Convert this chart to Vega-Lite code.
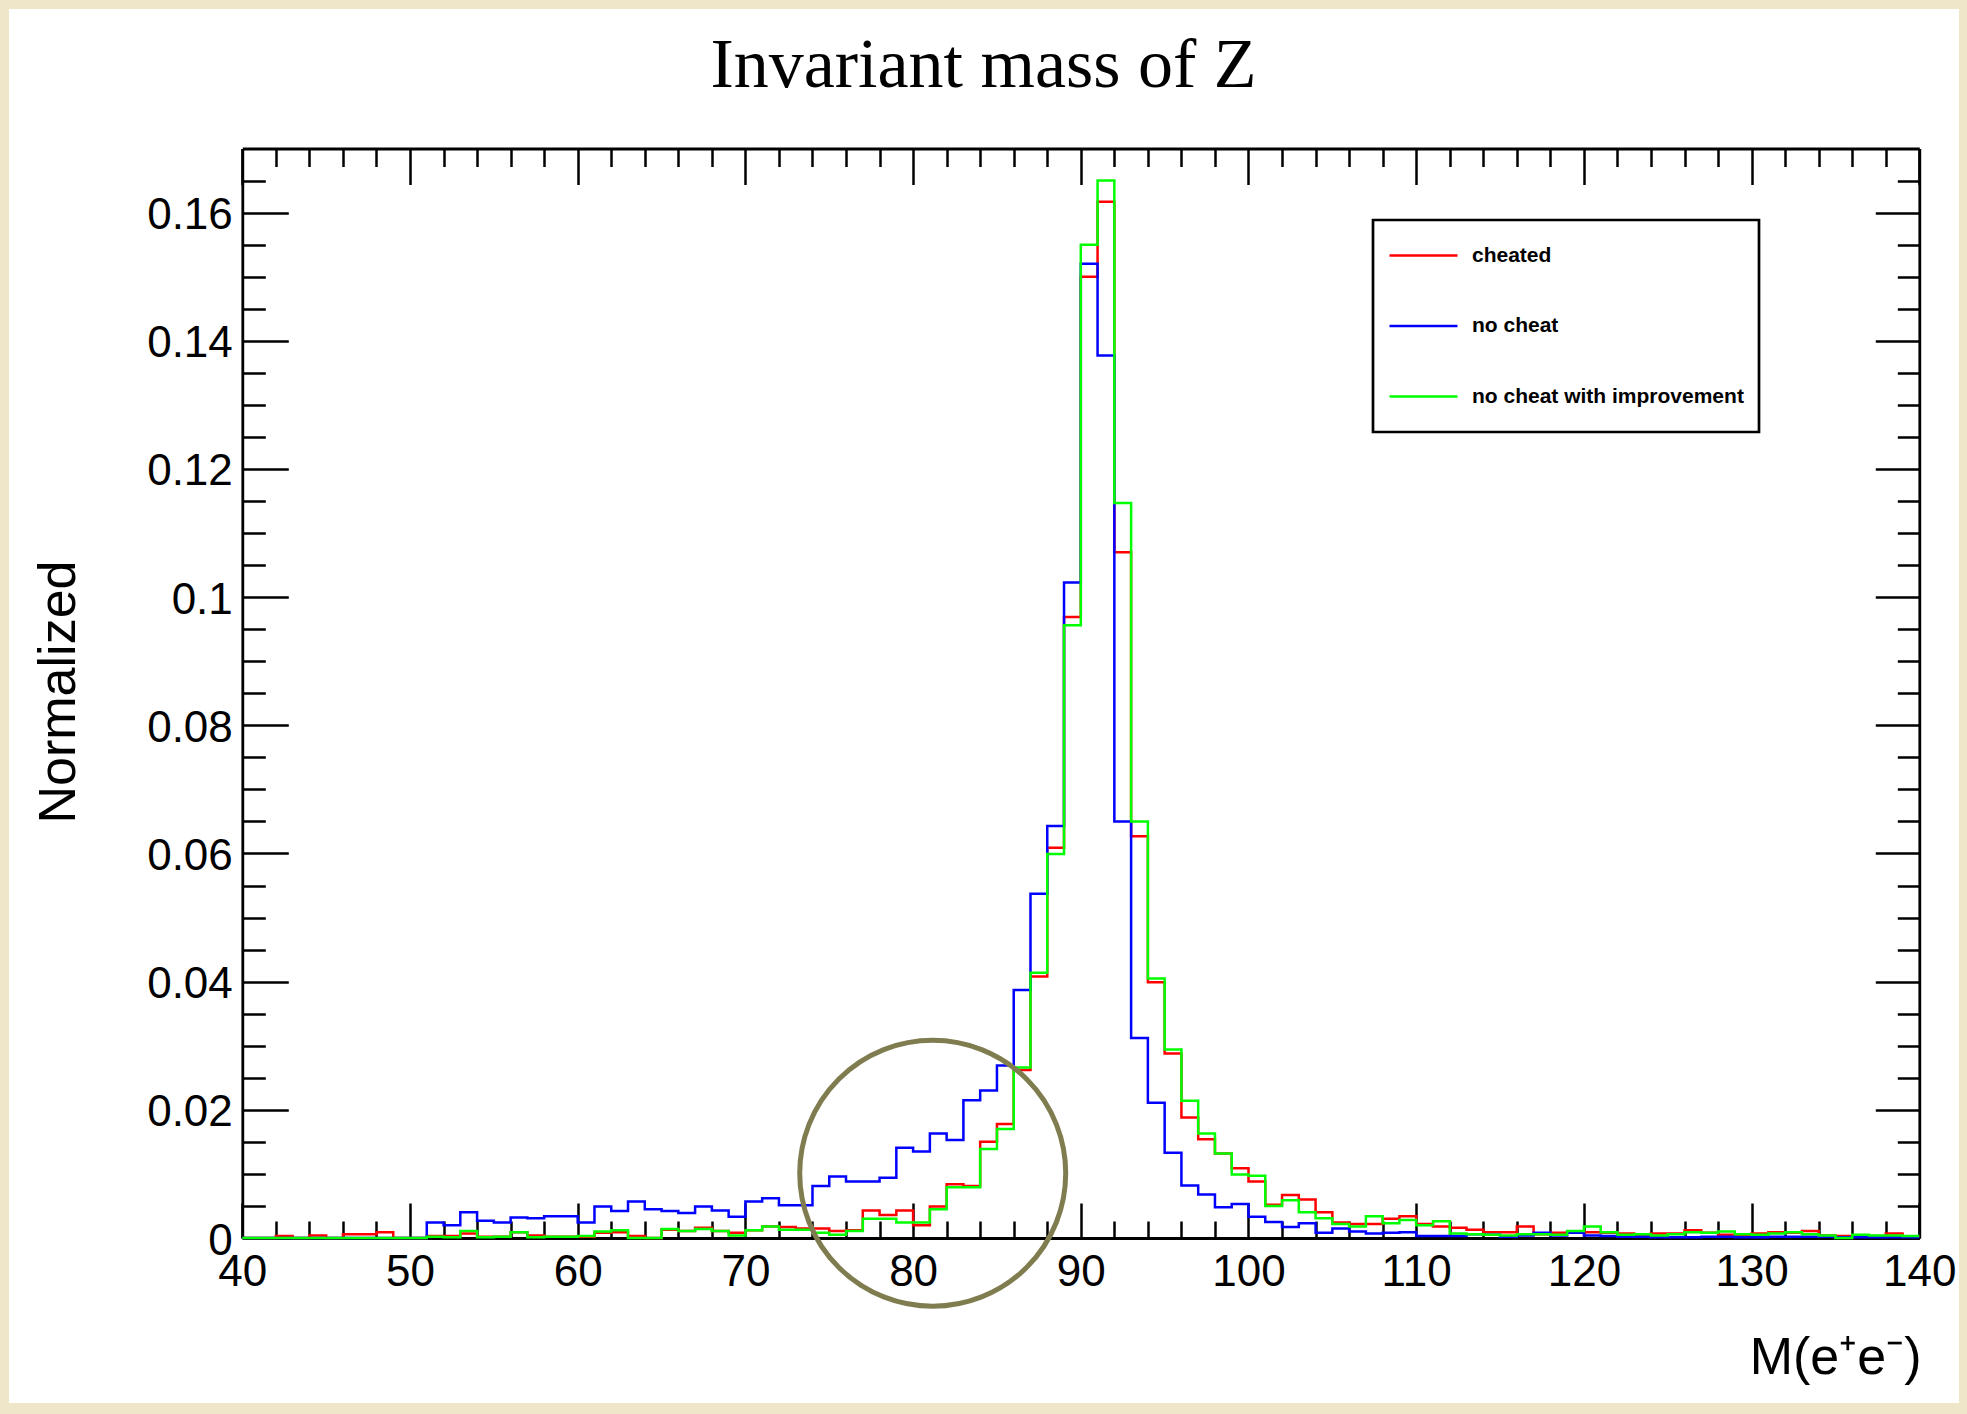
{
  "$schema": "https://vega.github.io/schema/vega-lite/v6.json",
  "width": 1950,
  "height": 1394,
  "autosize": {"type": "none"},
  "padding": {"left": 9, "top": 9, "right": 8, "bottom": 11},
  "background": "#efe6c9",
  "config": {"view": {"fill": "white", "stroke": null}, "axis": {"grid": false}},
  "datasets": {
    "hist": [
      {"m":40,"cheated":0,"no_cheat":0,"improved":0},
      {"m":41,"cheated":0,"no_cheat":0,"improved":0},
      {"m":42,"cheated":0.0003,"no_cheat":0,"improved":0},
      {"m":43,"cheated":0,"no_cheat":0,"improved":0},
      {"m":44,"cheated":0.0004,"no_cheat":0,"improved":0},
      {"m":45,"cheated":0,"no_cheat":0,"improved":0},
      {"m":46,"cheated":0.0006,"no_cheat":0,"improved":0},
      {"m":47,"cheated":0.0006,"no_cheat":0,"improved":0},
      {"m":48,"cheated":0.0009,"no_cheat":0,"improved":0},
      {"m":49,"cheated":0,"no_cheat":0,"improved":0},
      {"m":50,"cheated":0,"no_cheat":0,"improved":0},
      {"m":51,"cheated":0.0003,"no_cheat":0.0024,"improved":0.0002},
      {"m":52,"cheated":0.0003,"no_cheat":0.0020,"improved":0.0001},
      {"m":53,"cheated":0.0007,"no_cheat":0.0040,"improved":0.0011},
      {"m":54,"cheated":0.0002,"no_cheat":0.0027,"improved":0.0001},
      {"m":55,"cheated":0.0002,"no_cheat":0.0024,"improved":0.0002},
      {"m":56,"cheated":0.0009,"no_cheat":0.0032,"improved":0.0009},
      {"m":57,"cheated":0.0004,"no_cheat":0.0031,"improved":0.0001},
      {"m":58,"cheated":0.0002,"no_cheat":0.0034,"improved":0.0002},
      {"m":59,"cheated":0.0002,"no_cheat":0.0034,"improved":0.0002},
      {"m":60,"cheated":0.0002,"no_cheat":0.0024,"improved":0.0003},
      {"m":61,"cheated":0.0008,"no_cheat":0.0049,"improved":0.0010},
      {"m":62,"cheated":0.0009,"no_cheat":0.0042,"improved":0.0012},
      {"m":63,"cheated":0.0003,"no_cheat":0.0057,"improved":0},
      {"m":64,"cheated":0,"no_cheat":0.0045,"improved":0},
      {"m":65,"cheated":0.0013,"no_cheat":0.0042,"improved":0.0014},
      {"m":66,"cheated":0.0011,"no_cheat":0.0039,"improved":0.0011},
      {"m":67,"cheated":0.0016,"no_cheat":0.0049,"improved":0.0014},
      {"m":68,"cheated":0.0011,"no_cheat":0.0043,"improved":0.0011},
      {"m":69,"cheated":0.0008,"no_cheat":0.0033,"improved":0.0004},
      {"m":70,"cheated":0.0012,"no_cheat":0.0057,"improved":0.0012},
      {"m":71,"cheated":0.0018,"no_cheat":0.0062,"improved":0.0018},
      {"m":72,"cheated":0.0017,"no_cheat":0.0051,"improved":0.0013},
      {"m":73,"cheated":0.0015,"no_cheat":0.0051,"improved":0.0013},
      {"m":74,"cheated":0.0015,"no_cheat":0.0081,"improved":0.0008},
      {"m":75,"cheated":0.0011,"no_cheat":0.0096,"improved":0.0005},
      {"m":76,"cheated":0.0012,"no_cheat":0.0088,"improved":0.0011},
      {"m":77,"cheated":0.0043,"no_cheat":0.0088,"improved":0.0030},
      {"m":78,"cheated":0.0036,"no_cheat":0.0094,"improved":0.0030},
      {"m":79,"cheated":0.0043,"no_cheat":0.0141,"improved":0.0024},
      {"m":80,"cheated":0.0020,"no_cheat":0.0135,"improved":0.0024},
      {"m":81,"cheated":0.0049,"no_cheat":0.0163,"improved":0.0045},
      {"m":82,"cheated":0.0084,"no_cheat":0.0153,"improved":0.0079},
      {"m":83,"cheated":0.0081,"no_cheat":0.0215,"improved":0.0079},
      {"m":84,"cheated":0.0150,"no_cheat":0.0230,"improved":0.0139},
      {"m":85,"cheated":0.0178,"no_cheat":0.0269,"improved":0.0170},
      {"m":86,"cheated":0.0262,"no_cheat":0.0387,"improved":0.0266},
      {"m":87,"cheated":0.0408,"no_cheat":0.0537,"improved":0.0414},
      {"m":88,"cheated":0.0609,"no_cheat":0.0643,"improved":0.0599},
      {"m":89,"cheated":0.0969,"no_cheat":0.1023,"improved":0.0956},
      {"m":90,"cheated":0.1500,"no_cheat":0.1520,"improved":0.1550},
      {"m":91,"cheated":0.1617,"no_cheat":0.1377,"improved":0.1650},
      {"m":92,"cheated":0.1070,"no_cheat":0.0650,"improved":0.1147},
      {"m":93,"cheated":0.0627,"no_cheat":0.0312,"improved":0.0650},
      {"m":94,"cheated":0.0399,"no_cheat":0.0211,"improved":0.0405},
      {"m":95,"cheated":0.0288,"no_cheat":0.0133,"improved":0.0294},
      {"m":96,"cheated":0.0188,"no_cheat":0.0082,"improved":0.0214},
      {"m":97,"cheated":0.0154,"no_cheat":0.0068,"improved":0.0163},
      {"m":98,"cheated":0.0132,"no_cheat":0.0048,"improved":0.0132},
      {"m":99,"cheated":0.0109,"no_cheat":0.0053,"improved":0.0099},
      {"m":100,"cheated":0.0088,"no_cheat":0.0033,"improved":0.0097},
      {"m":101,"cheated":0.0052,"no_cheat":0.0025,"improved":0.0050},
      {"m":102,"cheated":0.0067,"no_cheat":0.0017,"improved":0.0059},
      {"m":103,"cheated":0.0060,"no_cheat":0.0023,"improved":0.0040},
      {"m":104,"cheated":0.0040,"no_cheat":0.0008,"improved":0.0031},
      {"m":105,"cheated":0.0024,"no_cheat":0.0015,"improved":0.0022},
      {"m":106,"cheated":0.0022,"no_cheat":0.0010,"improved":0.0018},
      {"m":107,"cheated":0.0022,"no_cheat":0.0007,"improved":0.0034},
      {"m":108,"cheated":0.0030,"no_cheat":0.0008,"improved":0.0023},
      {"m":109,"cheated":0.0034,"no_cheat":0.0009,"improved":0.0028},
      {"m":110,"cheated":0.0022,"no_cheat":0.0003,"improved":0.0020},
      {"m":111,"cheated":0.0018,"no_cheat":0.0003,"improved":0.0026},
      {"m":112,"cheated":0.0016,"no_cheat":0.0003,"improved":0.0007},
      {"m":113,"cheated":0.0013,"no_cheat":0.0006,"improved":0.0006},
      {"m":114,"cheated":0.0009,"no_cheat":0.0005,"improved":0.0005},
      {"m":115,"cheated":0.0009,"no_cheat":0.0002,"improved":0.0004},
      {"m":116,"cheated":0.0018,"no_cheat":0.0004,"improved":0.0006},
      {"m":117,"cheated":0.0006,"no_cheat":0.0008,"improved":0.0006},
      {"m":118,"cheated":0.0008,"no_cheat":0.0004,"improved":0.0005},
      {"m":119,"cheated":0.0010,"no_cheat":0.0008,"improved":0.0011},
      {"m":120,"cheated":0.0009,"no_cheat":0.0004,"improved":0.0018},
      {"m":121,"cheated":0.0008,"no_cheat":0.0003,"improved":0.0009},
      {"m":122,"cheated":0.0007,"no_cheat":0.0002,"improved":0.0005},
      {"m":123,"cheated":0.0005,"no_cheat":0.0002,"improved":0.0006},
      {"m":124,"cheated":0.0007,"no_cheat":0.0001,"improved":0.0004},
      {"m":125,"cheated":0.0007,"no_cheat":0.0001,"improved":0.0006},
      {"m":126,"cheated":0.0012,"no_cheat":0.0001,"improved":0.0009},
      {"m":127,"cheated":0.0008,"no_cheat":0.0002,"improved":0.0008},
      {"m":128,"cheated":0.0005,"no_cheat":0.0002,"improved":0.0010},
      {"m":129,"cheated":0.0004,"no_cheat":0.0001,"improved":0.0006},
      {"m":130,"cheated":0.0007,"no_cheat":0.0001,"improved":0.0005},
      {"m":131,"cheated":0.0009,"no_cheat":0.0002,"improved":0.0007},
      {"m":132,"cheated":0.0008,"no_cheat":0.0002,"improved":0.0009},
      {"m":133,"cheated":0.0011,"no_cheat":0.0002,"improved":0.0006},
      {"m":134,"cheated":0.0004,"no_cheat":0.0002,"improved":0.0004},
      {"m":135,"cheated":0.0003,"no_cheat":0.0001,"improved":0},
      {"m":136,"cheated":0.0002,"no_cheat":0.0001,"improved":0.0005},
      {"m":137,"cheated":0.0003,"no_cheat":0.0001,"improved":0.0004},
      {"m":138,"cheated":0.0007,"no_cheat":0.0001,"improved":0.0004},
      {"m":139,"cheated":0.0002,"no_cheat":0.0001,"improved":0.0003},
      {"m":140,"cheated":0.0002,"no_cheat":0.0001,"improved":0.0003}
    ],
    "annotation": [{"mx": 81.17, "my": 0.0101}]
  },
  "resolve": {"axis": {"x": "independent", "y": "independent"}},
  "layer": [
    {
      "data": {"name": "hist"},
      "mark": {"type": "line", "interpolate": "step-after", "strokeWidth": 2.5},
      "encoding": {
        "x": {
          "field": "m", "type": "quantitative",
          "scale": {"domain": [40, 140], "range": [233.3, 1910.3], "nice": false, "zero": false},
          "axis": {
            "orient": "bottom", "offset": -165,
            "values": [40, 50, 60, 70, 80, 90, 100, 110, 120, 130, 140],
            "ticks": false, "domain": true, "domainColor": "black", "domainWidth": 2.8,
            "labels": true, "labelFont": "Liberation Sans", "labelFontSize": 44, "labelColor": "black",
            "labelPadding": 12, "labelBaseline": "top", "labelFlush": false, "labelOverlap": false, "labelBound": false,
            "format": "d",
            "title": "M(e⁺e⁻)", "titleFont": "Liberation Sans", "titleFontSize": 52, "titleFontWeight": "normal",
            "titleColor": "black", "titleX": 1912, "titleY": 135, "titleAlign": "right", "titleBaseline": "alphabetic", "titleAngle": 0
          }
        },
        "y": {
          "field": "cheated", "type": "quantitative",
          "scale": {"domain": [0, 0.17], "range": [1229, 139.5], "nice": false, "zero": true},
          "axis": {
            "orient": "left", "offset": -233.3,
            "values": [0, 0.02, 0.04, 0.06, 0.08, 0.1, 0.12, 0.14, 0.16],
            "ticks": false, "domain": true, "domainColor": "black", "domainWidth": 2.8,
            "labels": true, "labelFont": "Liberation Sans", "labelFontSize": 44, "labelColor": "black",
            "labelPadding": 10, "labelBaseline": "alphabetic", "labelOffset": 16, "labelFlush": false, "labelOverlap": false, "labelBound": false,
            "format": "~g",
            "title": "Normalized", "titleFont": "Liberation Sans", "titleFontSize": 52, "titleFontWeight": "normal",
            "titleColor": "black", "titleX": -168, "titleY": 682.5, "titleAngle": -90, "titleAlign": "center", "titleBaseline": "alphabetic"
          }
        },
        "color": {
          "datum": "cheated", "type": "nominal",
          "scale": {"domain": ["cheated", "no cheat", "no cheat with improvement"], "range": ["#ff0000", "#0000ff", "#00ff00"]},
          "legend": {
            "orient": "none", "legendX": 1364, "legendY": 211,
            "title": null, "strokeColor": "black", "fillColor": "white",
            "padding": 15, "rowPadding": 29.5, "clipHeight": 41,
            "symbolType": "stroke", "symbolSize": 4624, "symbolStrokeWidth": 2.5, "symbolOpacity": 1,
            "labelFont": "Liberation Sans", "labelFontSize": 21, "labelFontWeight": "bold", "labelColor": "black",
            "labelOffset": 13, "labelLimit": 0,
            "encode": {"legend": {"update": {"strokeWidth": {"value": 2.7}}}}
          }
        }
      }
    },
    {
      "data": {"name": "hist"},
      "mark": {"type": "line", "interpolate": "step-after", "strokeWidth": 2.5},
      "encoding": {
        "x": {
          "field": "m", "type": "quantitative",
          "scale": {"domain": [40, 140], "range": [233.3, 1910.3], "nice": false, "zero": false},
          "axis": {
            "orient": "bottom", "offset": -165,
            "values": [40,42,44,46,48,50,52,54,56,58,60,62,64,66,68,70,72,74,76,78,80,82,84,86,88,90,92,94,96,98,100,102,104,106,108,110,112,114,116,118,120,122,124,126,128,130,132,134,136,138,140],
            "ticks": true, "tickColor": "black", "tickWidth": 2.5,
            "tickSize": {"condition": {"test": "datum.value % 10 === 0", "value": -35}, "value": -17},
            "domain": false, "labels": false, "title": null
          }
        },
        "y": {
          "field": "no_cheat", "type": "quantitative",
          "scale": {"domain": [0, 0.17], "range": [1229, 139.5], "nice": false, "zero": true},
          "axis": {
            "orient": "left", "offset": -233.3,
            "values": [0,0.005,0.01,0.015,0.02,0.025,0.03,0.035,0.04,0.045,0.05,0.055,0.06,0.065,0.07,0.075,0.08,0.085,0.09,0.095,0.1,0.105,0.11,0.115,0.12,0.125,0.13,0.135,0.14,0.145,0.15,0.155,0.16,0.165],
            "ticks": true, "tickColor": "black", "tickWidth": 2.5,
            "tickSize": {"condition": {"test": "round(datum.value * 1000) % 20 === 0", "value": -46}, "value": -23},
            "domain": false, "labels": false, "title": null
          }
        },
        "color": {"datum": "no cheat", "type": "nominal"}
      }
    },
    {
      "data": {"name": "hist"},
      "mark": {"type": "line", "interpolate": "step-after", "strokeWidth": 2.5},
      "encoding": {
        "x": {
          "field": "m", "type": "quantitative",
          "scale": {"domain": [40, 140], "range": [233.3, 1910.3], "nice": false, "zero": false},
          "axis": {
            "orient": "top", "offset": -139.5,
            "values": [40,42,44,46,48,50,52,54,56,58,60,62,64,66,68,70,72,74,76,78,80,82,84,86,88,90,92,94,96,98,100,102,104,106,108,110,112,114,116,118,120,122,124,126,128,130,132,134,136,138,140],
            "ticks": true, "tickColor": "black", "tickWidth": 2.5,
            "tickSize": {"condition": {"test": "datum.value % 10 === 0", "value": -36}, "value": -18},
            "domain": true, "domainColor": "black", "domainWidth": 2.8, "labels": false,
            "title": "Invariant mass of Z", "titleFont": "Liberation Serif", "titleFontSize": 70, "titleFontWeight": "normal",
            "titleColor": "black", "titleX": 974, "titleY": -62, "titleAlign": "center", "titleBaseline": "alphabetic", "titleAngle": 0
          }
        },
        "y": {
          "field": "improved", "type": "quantitative",
          "scale": {"domain": [0, 0.17], "range": [1229, 139.5], "nice": false, "zero": true},
          "axis": {
            "orient": "right", "offset": -39.7,
            "values": [0,0.005,0.01,0.015,0.02,0.025,0.03,0.035,0.04,0.045,0.05,0.055,0.06,0.065,0.07,0.075,0.08,0.085,0.09,0.095,0.1,0.105,0.11,0.115,0.12,0.125,0.13,0.135,0.14,0.145,0.15,0.155,0.16,0.165],
            "ticks": true, "tickColor": "black", "tickWidth": 2.5,
            "tickSize": {"condition": {"test": "round(datum.value * 1000) % 20 === 0", "value": -44}, "value": -22},
            "domain": true, "domainColor": "black", "domainWidth": 2.8, "labels": false, "title": null
          }
        },
        "color": {"datum": "no cheat with improvement", "type": "nominal"}
      }
    },
    {
      "data": {"name": "annotation"},
      "mark": {"type": "point", "shape": "circle", "size": 70756, "filled": false, "stroke": "#7f7d4f", "strokeWidth": 5, "opacity": 1, "clip": false},
      "encoding": {
        "x": {"field": "mx", "type": "quantitative", "axis": null},
        "y": {"field": "my", "type": "quantitative", "axis": null}
      }
    }
  ]
}
